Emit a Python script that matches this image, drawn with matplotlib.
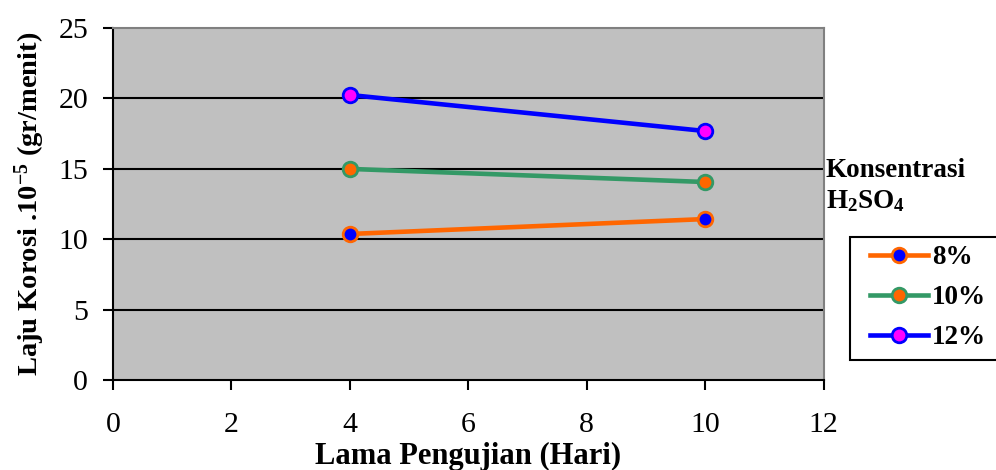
import matplotlib
matplotlib.use("Agg")
import matplotlib.pyplot as plt
from matplotlib.patches import Rectangle

plt.rcParams['font.family'] = ['Liberation Serif', 'DejaVu Serif']
plt.rcParams['mathtext.fontset'] = 'custom'
plt.rcParams['mathtext.rm'] = 'Liberation Serif:bold'
plt.rcParams['mathtext.it'] = 'Liberation Serif:bold'
plt.rcParams['mathtext.bf'] = 'Liberation Serif:bold'

days = [4, 10]
rate_8 = [10.37, 11.43]
rate_10 = [14.99, 14.06]
rate_12 = [20.24, 17.68]
labels = ["8%", "10%", "12%"]

series = [
    (rate_8, "#FF6600", "#0000FF"),
    (rate_10, "#339966", "#FF6600"),
    (rate_12, "#0000FF", "#FF00FF"),
]

fig = plt.figure(figsize=(9.96, 4.7), dpi=100)
ax = fig.add_axes([0.1135, 0.1915, 0.7135, 0.749])
ax.set_facecolor("#C0C0C0")

for y in [5, 10, 15, 20]:
    ax.axhline(y, color="black", lw=1.5, zorder=1)

handles = []
for (vals, lc, fc), lab in zip(series, labels):
    h, = ax.plot(days, vals, color=lc, lw=3.3, marker="o", markersize=10.5,
                 markerfacecolor=fc, markeredgecolor=lc, markeredgewidth=2,
                 label=lab, zorder=3)
    handles.append(h)

ax.set_xlim(0, 12)
ax.set_ylim(0, 25)
ax.set_xticks(range(0, 13, 2))
ax.set_yticks(range(0, 26, 5))
ax.tick_params(labelsize=21.5, direction="out", length=7, width=1.5, colors="black")
ax.tick_params(axis="x", pad=16)
ax.tick_params(axis="y", pad=11)
for s in ["top", "right"]:
    ax.spines[s].set_color("#808080")
    ax.spines[s].set_linewidth(1.5)
for s in ["left", "bottom"]:
    ax.spines[s].set_color("black")
    ax.spines[s].set_linewidth(1.5)

ax.set_xlabel("Lama Pengujian (Hari)", fontsize=22, fontweight="bold", labelpad=3)
ax.set_ylabel(r"Laju Korosi .10$^{\mathregular{-5}}$ (gr/menit)", fontsize=20.5,
              fontweight="bold", labelpad=8)

fig.text(0.829, 0.638, "Konsentrasi", fontsize=19.5, fontweight="bold", va="center")
fig.text(0.829, 0.572, r"H$_{\mathregular{2}}$SO$_{\mathregular{4}}$", fontsize=19.5,
         fontweight="bold", va="center")

# legend box runs off the right edge of the figure
fig.patches.append(Rectangle((0.8535, 0.234), 0.2, 0.262, transform=fig.transFigure,
                             facecolor="white", edgecolor="black", lw=1.5, zorder=1))
leg = fig.legend(handles=handles, labels=labels, loc="upper left",
                 bbox_to_anchor=(0.8735, 0.478), prop={"size": 19.5, "weight": "bold"},
                 frameon=False, handlelength=2.15, handletextpad=0.15,
                 labelspacing=0.55, borderpad=0, borderaxespad=0)
leg.set_zorder(2)

fig.savefig("out.png", dpi=100)
